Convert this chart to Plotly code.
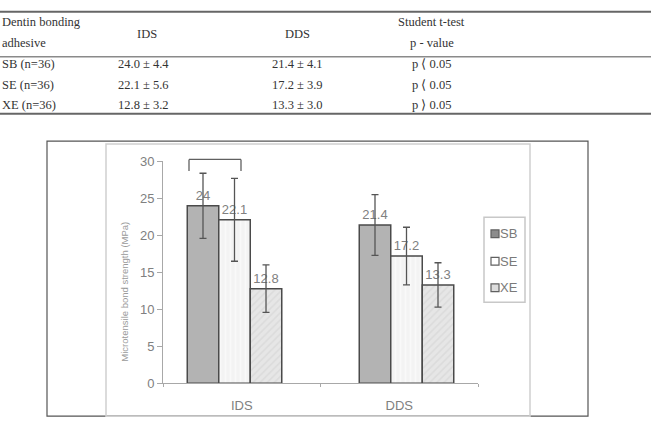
import plotly.graph_objects as go

W, H = 651, 428

# ---- data ----
categories = ["IDS", "DDS"]
series = ["SB", "SE", "XE"]
row_labels = ["SB (n=36)", "SE (n=36)", "XE (n=36)"]
ids_mean = [24.0, 22.1, 12.8]
ids_sd = [4.4, 5.6, 3.2]
dds_mean = [21.4, 17.2, 13.3]
dds_sd = [4.1, 3.9, 3.0]
p_values = ["p ⟨ 0.05", "p ⟨ 0.05", "p ⟩ 0.05"]
header_col0 = ["Dentin bonding", "adhesive"]
header_col3 = ["Student t-test", "p - value"]
y_ticks = [0, 5, 10, 15, 20, 25, 30]
y_title = "Microtensile bond strength (MPa)"

# ---- style ----
fills = ["#b3b3b3", "#f3f3f3", "#e6e6e6"]
patterns = ["", "|", "/"]
pat_fg = ["#b3b3b3", "#ffffff", "#cfcfcf"]
legend_fill = ["#8c8c8c", "#ffffff", "#dddddd"]
bar_w = 0.2
group_shift = [-0.046, 0.046]


def px(x):
    return x / W


def py(y):
    return 1 - y / H


fig = go.Figure()
for i, s in enumerate(series):
    means = [ids_mean[i], dds_mean[i]]
    sds = [ids_sd[i], dds_sd[i]]
    offs = [(-1.5 + i) * bar_w + g for g in group_shift]
    fig.add_trace(go.Bar(
        name=s, x=categories, y=means, width=bar_w, offset=offs,
        marker=dict(color=fills[i], line=dict(color="#4a4a4a", width=1.5),
                    pattern=dict(shape=patterns[i], fgcolor=pat_fg[i], size=5, solidity=0.3)),
        error_y=dict(type="data", array=sds, visible=True, color="#555555", thickness=1.3, width=3.5),
        text=[f"{m:g}" for m in means], textposition="outside",
        textfont=dict(family="Liberation Sans, Arial", size=13, color="#808080"),
        cliponaxis=False, showlegend=False,
    ))

fig.update_layout(
    width=W, height=H, margin=dict(l=0, r=0, t=0, b=0),
    paper_bgcolor="white", plot_bgcolor="white",
    barmode="overlay",
    showlegend=False,
    xaxis=dict(domain=[px(163), px(478)], showline=True, linecolor="#a8a8a8", linewidth=1,
               ticks="outside", tickson="boundaries", ticklen=3, tickcolor="#a8a8a8",
               ticklabelstandoff=10,
               tickfont=dict(family="Liberation Sans, Arial", size=13, color="#808080"),
               showgrid=False, zeroline=False),
    yaxis=dict(domain=[py(390), py(160)], range=[0, 30], tickvals=y_ticks,
               showline=True, linecolor="#a8a8a8", linewidth=1,
               ticks="outside", ticklen=5, tickcolor="#a8a8a8",
               tickfont=dict(family="Liberation Sans, Arial", size=13, color="#808080"),
               showgrid=False, zeroline=False),
    font=dict(family="Liberation Sans, Arial"),
)

shapes = []
# chart frames
shapes.append(dict(type="rect", xref="paper", yref="paper", x0=px(47), x1=px(588), y0=py(424), y1=py(139),
                   line=dict(color="#555555", width=1.2), layer="below"))
shapes.append(dict(type="rect", xref="paper", yref="paper", x0=px(106), x1=px(530), y0=py(424), y1=py(142),
                   line=dict(color="#cfcfcf", width=1.5), layer="below"))
# significance bracket
bx0, bx1, byt, byb = px(189), px(241), py(158), py(170)
for (a, b, c, d) in [(bx0, byt, bx1, byt), (bx0, byt, bx0, byb), (bx1, byt, bx1, byb)]:
    shapes.append(dict(type="line", xref="paper", yref="paper", x0=a, y0=b, x1=c, y1=d,
                       line=dict(color="#606060", width=1.3)))
# table rules
for yy, wdt, col in [(5, 2, "#666666"), (51.5, 1.6, "#8a8a8a"), (110.5, 2, "#666666")]:
    shapes.append(dict(type="line", xref="paper", yref="paper", x0=0, x1=1, y0=py(yy), y1=py(yy),
                       line=dict(color=col, width=wdt)))
# legend box
shapes.append(dict(type="rect", xref="paper", yref="paper", x0=px(484), x1=px(525), y0=py(306), y1=py(218),
                   line=dict(color="#c8c8c8", width=1.5), fillcolor="white"))
leg_y = [235, 263.5, 291]
for i, s in enumerate(series):
    shapes.append(dict(type="rect", xref="paper", yref="paper", x0=px(491), x1=px(499),
                       y0=py(leg_y[i] + 4), y1=py(leg_y[i] - 4),
                       line=dict(color="#606060", width=1.2), fillcolor=legend_fill[i]))
fig.update_layout(shapes=shapes)

tf = dict(family="Liberation Serif, Times New Roman, serif", size=12.5, color="#333333")
ann = []


def add(text, x, y, xanchor="center", font=tf, **kw):
    ann.append(dict(text=text, x=px(x), y=py(y), xref="paper", yref="paper",
                    xanchor=xanchor, yanchor="middle", showarrow=False, font=font, **kw))


add(header_col0[0], 0, 16, "left")
add(header_col0[1], 0, 37.5, "left")
add(categories[0], 147, 27.5)
add(categories[1], 297, 27.5)
add(header_col3[0], 431, 16)
add(header_col3[1], 432, 37.5)
row_y = [59, 81, 102]
for i in range(3):
    add(row_labels[i], 0, row_y[i], "left")
    add(f"{ids_mean[i]:.1f} ± {ids_sd[i]:.1f}", 143, row_y[i])
    add(f"{dds_mean[i]:.1f} ± {dds_sd[i]:.1f}", 297, row_y[i])
    add(p_values[i], 431, row_y[i])

add(y_title, 125, 295, font=dict(family="Liberation Sans, Arial", size=9.5, color="#9a9a9a"), textangle=-90)
lf = dict(family="Liberation Sans, Arial", size=13, color="#7a7a7a")
for i, s in enumerate(series):
    ann.append(dict(text=s, x=px(500), y=py(leg_y[i]), xref="paper", yref="paper",
                    xanchor="left", yanchor="middle", showarrow=False, font=lf, xshift=-2))
fig.update_layout(annotations=ann)

fig.write_html("out.html")
